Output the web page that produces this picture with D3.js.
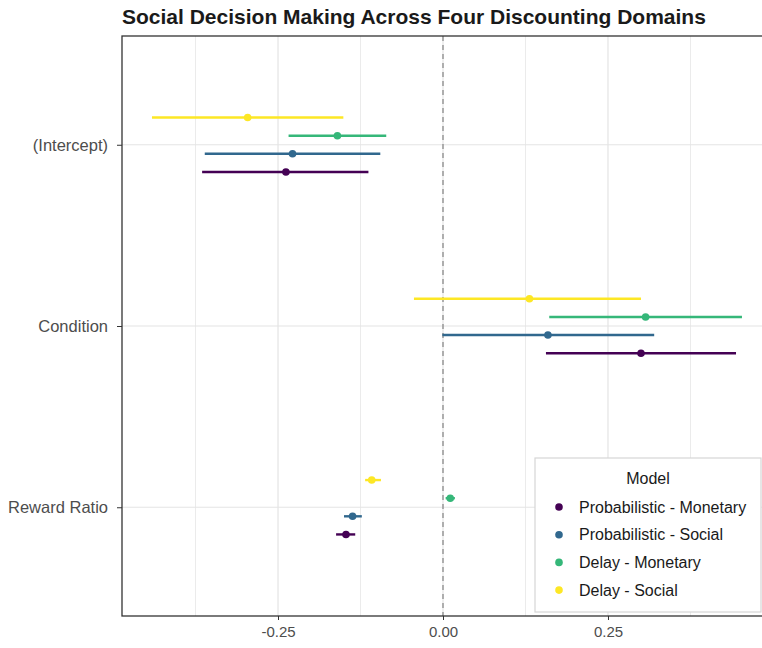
<!DOCTYPE html>
<html>
<head>
<meta charset="utf-8">
<script src="https://cdn.jsdelivr.net/npm/d3@7"></script>
<style>
  body { margin: 0; background: #ffffff; }
  svg { display: block; font-family: "Liberation Sans", Arial, sans-serif; }
</style>
</head>
<body>
<div id="displayChart"></div>
<script>
// terms on the y axis (top to bottom)
const terms = ["(Intercept)", "Condition", "Reward Ratio"];

// the four models + colours (viridis)
const models = ["Probabilistic - Monetary", "Probabilistic - Social", "Delay - Monetary", "Delay - Social"];
const modelColors = ["#440154", "#31688E", "#35B779", "#FDE725"];

// estimates, one value per term
const probMonEst = [-0.238, 0.300, -0.147];
const probSocEst = [-0.228, 0.159, -0.137];
const delayMonEst = [-0.160, 0.307, 0.011];
const delaySocEst = [-0.296, 0.131, -0.108];

// lower bounds of the intervals
const probMonLow = [-0.365, 0.156, -0.162];
const probSocLow = [-0.361, -0.001, -0.150];
const delayMonLow = [-0.234, 0.161, 0.004];
const delaySocLow = [-0.441, -0.044, -0.118];

// upper bounds of the intervals
const probMonHigh = [-0.113, 0.444, -0.133];
const probSocHigh = [-0.095, 0.320, -0.123];
const delayMonHigh = [-0.086, 0.453, 0.018];
const delaySocHigh = [-0.151, 0.300, -0.094];

// x axis ticks
const majorTicks = [-0.25, 0, 0.25];
const minorTicks = [-0.375, -0.125, 0.125, 0.375];

const titleText = "Social Decision Making Across Four Discounting Domains";
const legendTitle = "Model";

// build a flat table for d3
const estimates = [probMonEst, probSocEst, delayMonEst, delaySocEst];
const lows = [probMonLow, probSocLow, delayMonLow, delaySocLow];
const highs = [probMonHigh, probSocHigh, delayMonHigh, delaySocHigh];
let rows = [];
for (let m = 0; m < models.length; m++) {
    for (let t = 0; t < terms.length; t++) {
        rows.push({ model: models[m], term: terms[t], est: estimates[m][t], lo: lows[m][t], hi: highs[m][t] });
    }
}

const w = 762, h = 648;
// panel edges
const pLeft = 122, pRight = 764, pTop = 36, pBottom = 616;

let svg = d3.select("#displayChart")
    .append("svg")
    .attr("width", w)
    .attr("height", h);

// scales
let xScale = d3.scaleLinear()
    .domain([-0.4864, 0.4864])
    .range([pLeft, pRight]);

let yScale = d3.scalePoint()
    .domain(terms)
    .range([pTop, pBottom])
    .padding(0.6);

let step = yScale.step();

// dodge within each term
let dodge = d3.scalePoint()
    .domain(models)
    .range([0.15 * step, -0.15 * step]);

let color = d3.scaleOrdinal()
    .domain(models)
    .range(modelColors);

// grid lines
let grid = svg.append("g");
grid.selectAll(".minor")
    .data(minorTicks)
    .enter().append("line")
    .attr("x1", d => xScale(d)).attr("x2", d => xScale(d))
    .attr("y1", pTop).attr("y2", pBottom)
    .attr("stroke", "#ebebeb").attr("stroke-width", 1);
grid.selectAll(".major")
    .data(majorTicks)
    .enter().append("line")
    .attr("x1", d => xScale(d)).attr("x2", d => xScale(d))
    .attr("y1", pTop).attr("y2", pBottom)
    .attr("stroke", "#e4e4e4").attr("stroke-width", 1.2);
grid.selectAll(".hgrid")
    .data(terms)
    .enter().append("line")
    .attr("x1", pLeft).attr("x2", pRight)
    .attr("y1", d => yScale(d)).attr("y2", d => yScale(d))
    .attr("stroke", "#e4e4e4").attr("stroke-width", 1.2);

// dashed zero line
svg.append("line")
    .attr("x1", xScale(0)).attr("x2", xScale(0))
    .attr("y1", pTop).attr("y2", pBottom)
    .attr("stroke", "#8a8a8a")
    .attr("stroke-width", 1.3)
    .attr("stroke-dasharray", "5,4");

// interval lines
svg.append("g").selectAll(".ci")
    .data(rows)
    .enter().append("line")
    .attr("class", "ci")
    .attr("x1", d => xScale(d.lo))
    .attr("x2", d => xScale(d.hi))
    .attr("y1", d => yScale(d.term) + dodge(d.model))
    .attr("y2", d => yScale(d.term) + dodge(d.model))
    .attr("stroke", d => color(d.model))
    .attr("stroke-width", 2.4);

// estimate points
svg.append("g").selectAll(".pt")
    .data(rows)
    .enter().append("circle")
    .attr("class", "pt")
    .attr("cx", d => xScale(d.est))
    .attr("cy", d => yScale(d.term) + dodge(d.model))
    .attr("r", 3.8)
    .attr("fill", d => color(d.model));

// x axis (plain hyphen for negatives, like the original)
let x_axis = d3.axisBottom(xScale)
    .tickValues(majorTicks)
    .tickFormat(d => d.toFixed(2))
    .tickSize(4)
    .tickPadding(6);

let gx = svg.append("g")
    .attr("transform", "translate(0," + pBottom + ")")
    .call(x_axis);
gx.select(".domain").remove();
gx.selectAll("line").attr("stroke", "#333333");
gx.selectAll("text").attr("fill", "#4d4d4d").attr("font-size", "15px")
    .attr("font-family", "Liberation Sans, Arial, sans-serif");

// y axis
let y_axis = d3.axisLeft(yScale)
    .tickSize(5)
    .tickPadding(9);

let gy = svg.append("g")
    .attr("transform", "translate(" + pLeft + ",0)")
    .call(y_axis);
gy.select(".domain").remove();
gy.selectAll("line").attr("stroke", "#333333");
gy.selectAll("text").attr("fill", "#4d4d4d").attr("font-size", "16.5px")
    .attr("font-family", "Liberation Sans, Arial, sans-serif");

// panel border (right side runs off the picture)
svg.append("rect")
    .attr("x", pLeft).attr("y", pTop)
    .attr("width", pRight - pLeft).attr("height", pBottom - pTop)
    .attr("fill", "none")
    .attr("stroke", "#333333")
    .attr("stroke-width", 1.3);

// title
svg.append("text")
    .attr("x", pLeft)
    .attr("y", 24)
    .text(titleText)
    .attr("font-size", "21px")
    .attr("font-weight", "bold")
    .attr("fill", "#1a1a1a");

// legend
let lg = svg.append("g").attr("transform", "translate(535,458)");
lg.append("rect")
    .attr("width", 226).attr("height", 154)
    .attr("fill", "#ffffff")
    .attr("stroke", "#d6d6d6")
    .attr("stroke-width", 1.2);
lg.append("text")
    .attr("x", 113).attr("y", 26)
    .attr("text-anchor", "middle")
    .text(legendTitle)
    .attr("font-size", "16px")
    .attr("fill", "#1a1a1a");

let items = lg.selectAll(".item")
    .data(models)
    .enter().append("g")
    .attr("class", "item")
    .attr("transform", (d, i) => "translate(0," + (49 + i * 27.7) + ")");
items.append("circle")
    .attr("cx", 24).attr("cy", 0).attr("r", 3.8)
    .attr("fill", d => color(d));
items.append("text")
    .attr("x", 44).attr("y", 0)
    .attr("dy", "0.35em")
    .text(d => d)
    .attr("font-size", "16px")
    .attr("fill", "#1a1a1a");
</script>
</body>
</html>
